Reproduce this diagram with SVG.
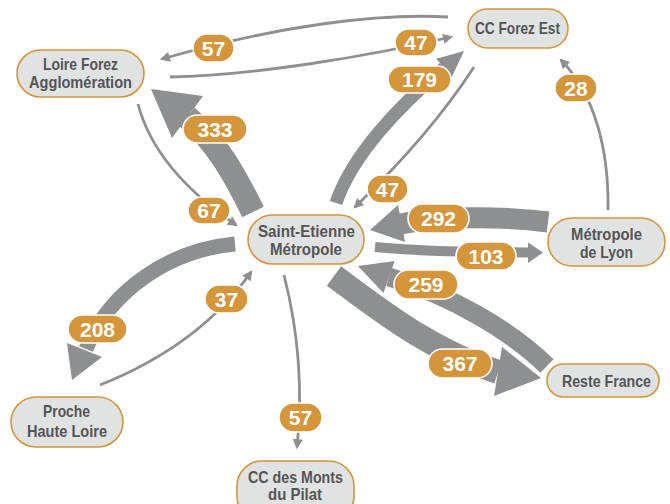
<svg xmlns="http://www.w3.org/2000/svg" width="670" height="504" viewBox="0 0 670 504">
<defs>
<style>
.node rect{fill:#e1e2e2;stroke:#d4953b;stroke-width:1.6}
.node text{font-family:"Liberation Sans",Arial,sans-serif;font-weight:bold;font-size:16.5px;fill:#545557;text-anchor:middle}
.thin{fill:none;stroke:#8e8f91;stroke-width:2.8;marker-end:url(#ah)}
.band{fill:none;stroke:#8e8f91;stroke-linecap:butt}
.head{fill:#8e8f91}
.wband{fill:none;stroke:#fff;stroke-linecap:butt}
.whead{fill:#fff;stroke:#fff;stroke-width:4;stroke-linejoin:round}
.pill rect{fill:#d4953b;stroke:#fff;stroke-width:1.6}
.pill text{font-family:"Liberation Sans",Arial,sans-serif;font-weight:bold;font-size:21px;fill:#fff;text-anchor:middle}
</style>
<marker id="ah" markerUnits="strokeWidth" markerWidth="4" markerHeight="4" refX="2.8" refY="0" orient="auto" viewBox="0 -2 4 4" overflow="visible">
<path d="M0,-1.8 L3.6,0 L0,1.8 z" fill="#8e8f91"/>
</marker>
</defs>
<rect width="670" height="504" fill="#fff"/>
<g id="connectors">
<path class="thin" d="M448,17 C380,13 280,25 162,59"/>
<path class="thin" d="M170,77 C250,76 370,56 451,37"/>
<path class="thin" d="M474,67 Q430,135 355,207"/>
<path class="thin" d="M608,210 C609,150 595,95 561,60"/>
<path class="thin" d="M138,104 C150,150 185,190 236,225"/>
<path class="thin" d="M100,385 Q200,345 251,272"/>
<path class="thin" d="M284,275 C298,330 303,390 297,447"/>
<path class="band" stroke-width="24" d="M253,212 C235,175 215,140 187,117"/>
<polygon class="head" points="151,89 203,96 172,138"/>
<path class="band" stroke-width="13" d="M336,203 C352,155 400,105 444,68"/>
<polygon class="head" points="464,51 451.7,77.2 436.3,58.8"/>
<path class="band" stroke-width="15" d="M235,244 C170,250 110,290 86,349"/>
<polygon class="head" points="72,380 67,343 102,357"/>
<path class="band" stroke-width="21" d="M548,222 C500,216 440,216 401,224"/>
<polygon class="head" points="370,230 398,205 405,242"/>
<path class="band" stroke-width="10" d="M375,247 C410,250 440,252 528,252.5"/>
<polygon class="head" points="528,242.5 543,252.5 528,263"/>
<path class="band" stroke-width="24" d="M334,276 C380,310 430,350 498,372"/>
<polygon class="head" points="541,378 502,347 494,396"/>
<path class="wband" stroke-width="24" d="M549,368 C510,330 450,295 389,277"/>
<polygon class="whead" points="358,266 394.6,261 383.4,293"/>
<path class="band" stroke-width="19" d="M547,366 C510,330 450,295 389,277"/>
<polygon class="head" points="358,266 394.6,261 383.4,293"/>
</g>
<g id="labels">
<g class="pill"><rect x="193" y="34" width="41" height="28" rx="14"/><text x="213.5" y="55.5">57</text></g>
<g class="pill"><rect x="395" y="29" width="42" height="27" rx="13.5"/><text x="416" y="50">47</text></g>
<g class="pill"><rect x="388" y="66" width="63" height="27" rx="13.5"/><text x="419.5" y="87">179</text></g>
<g class="pill"><rect x="183" y="115" width="64" height="28" rx="14"/><text x="215" y="136.5">333</text></g>
<g class="pill"><rect x="188" y="197" width="42" height="27" rx="13.5"/><text x="209" y="218">67</text></g>
<g class="pill"><rect x="367" y="175" width="41" height="28" rx="14"/><text x="387.5" y="196.5">47</text></g>
<g class="pill"><rect x="555" y="74" width="42" height="28" rx="14"/><text x="576" y="95.5">28</text></g>
<g class="pill"><rect x="408" y="204" width="61" height="29" rx="14.5"/><text x="438.5" y="226">292</text></g>
<g class="pill"><rect x="456" y="242" width="60" height="28" rx="14"/><text x="486" y="263.5">103</text></g>
<g class="pill"><rect x="394" y="270" width="64" height="29" rx="14.5"/><text x="426" y="292">259</text></g>
<g class="pill"><rect x="428" y="349" width="64" height="29" rx="14.5"/><text x="460" y="371">367</text></g>
<g class="pill"><rect x="68" y="315" width="59" height="28" rx="14"/><text x="97.5" y="336.5">208</text></g>
<g class="pill"><rect x="205" y="285" width="43" height="28" rx="14"/><text x="226.5" y="306.5">37</text></g>
<g class="pill"><rect x="279" y="403" width="43" height="29" rx="14.5"/><text x="300.5" y="425">57</text></g>
</g>
<g id="node-loire" class="node"><rect x="17" y="50" width="127" height="47" rx="23.5"/><text x="80.5" y="70" textLength="75" lengthAdjust="spacingAndGlyphs">Loire Forez</text><text x="80.5" y="88" textLength="103" lengthAdjust="spacingAndGlyphs">Agglomération</text></g>
<g id="node-ccfe" class="node"><rect x="468" y="9" width="100" height="39" rx="19.5"/><text x="517.5" y="33.5" textLength="85" lengthAdjust="spacingAndGlyphs">CC Forez Est</text></g>
<g id="node-sem" class="node"><rect x="248" y="215" width="116" height="49" rx="24.5"/><text x="306.5" y="236.5" textLength="97" lengthAdjust="spacingAndGlyphs">Saint-Etienne</text><text x="306" y="255" textLength="72" lengthAdjust="spacingAndGlyphs">Métropole</text></g>
<g id="node-lyon" class="node"><rect x="548" y="218" width="117" height="48" rx="24"/><text x="606.5" y="240" textLength="71" lengthAdjust="spacingAndGlyphs">Métropole</text><text x="606.5" y="258" textLength="53" lengthAdjust="spacingAndGlyphs">de Lyon</text></g>
<g id="node-reste" class="node"><rect x="547" y="364" width="112" height="33" rx="16.5"/><text x="606.5" y="386.5" textLength="89" lengthAdjust="spacingAndGlyphs">Reste France</text></g>
<g id="node-phl" class="node"><rect x="11" y="397" width="112" height="50" rx="25"/><text x="66.5" y="416.5" textLength="47" lengthAdjust="spacingAndGlyphs">Proche</text><text x="67" y="436.5" textLength="80" lengthAdjust="spacingAndGlyphs">Haute Loire</text></g>
<g id="node-pilat" class="node"><rect x="237" y="461" width="117" height="60" rx="25"/><text x="295.5" y="483" textLength="95" lengthAdjust="spacingAndGlyphs">CC des Monts</text><text x="295" y="500" textLength="54" lengthAdjust="spacingAndGlyphs">du Pilat</text></g>
</svg>
